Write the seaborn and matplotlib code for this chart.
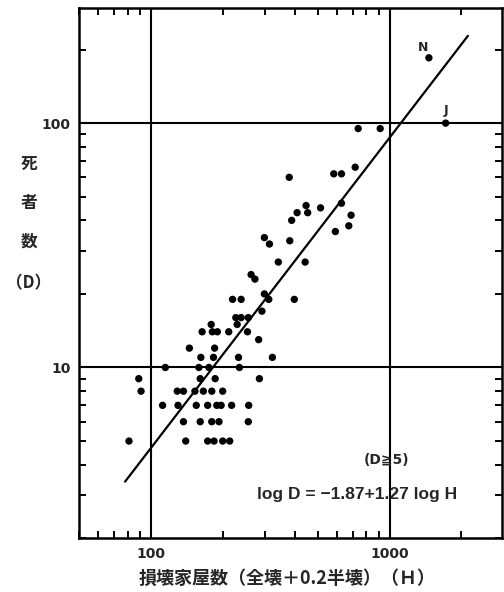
import numpy as np
import pandas as pd
import matplotlib
matplotlib.use("Agg")
import matplotlib.pyplot as plt
import seaborn as sns
from matplotlib.ticker import FixedLocator, NullFormatter, LogLocator

sns.set_style("white")
plt.rcParams['font.family'] = ['Noto Sans CJK JP', 'DejaVu Sans']

# Damaged houses H (x) and deaths D (y)
houses = [81, 140, 173, 184, 200, 214,
          137, 161, 180, 193, 256,
          112, 130, 155, 173, 189, 197, 218, 257,
          91, 129, 137, 153, 166, 180, 200,
          89, 161, 186, 285,
          115, 159, 175, 235,
          162, 183, 233, 323,
          145, 185,
          283,
          164, 181, 190, 212, 254,
          179, 230,
          227, 239, 256,
          292,
          220, 239, 312, 399,
          299, 273, 263,
          342, 443,
          314, 382, 299, 593, 675, 389,
          410, 454, 690,
          447, 514, 629,
          380, 584, 629, 718,
          739, 914,
          1462, 1718]
deaths = [5, 5, 5, 5, 5, 5,
          6, 6, 6, 6, 6,
          7, 7, 7, 7, 7, 7, 7, 7,
          8, 8, 8, 8, 8, 8, 8,
          9, 9, 9, 9,
          10, 10, 10, 10,
          11, 11, 11, 11,
          12, 12,
          13,
          14, 14, 14, 14, 14,
          15, 15,
          16, 16, 16,
          17,
          19, 19, 19, 19,
          20, 23, 24,
          27, 27,
          32, 33, 34, 36, 38, 40,
          43, 43, 42,
          46, 45, 47,
          60, 62, 62, 66,
          95, 95,
          185, 100]

# Regression: log D = a + b log H
coef_a = -1.87
coef_b = 1.27
line_h = [78, 2130]

x_ticks = [100, 1000]
x_ticklabels = ["100", "1000"]
y_ticks = [10, 100]
y_ticklabels = ["10", "100"]
y_label_chars = ["死", "者", "数", "（D）"]
x_label = "損壊家屋数（全壊＋0.2半壊）（Ｈ）"

df = pd.DataFrame({"H": houses, "D": deaths})
line_df = pd.DataFrame({"H": line_h})
line_df["D"] = 10 ** (coef_a + coef_b * np.log10(line_df["H"]))

fig = plt.figure(figsize=(5.04, 5.92), dpi=100)
ax = fig.add_axes([0.1567, 0.0907, 0.8387, 0.8953])

ax.set_xscale("log")
ax.set_yscale("log")
ax.set_xlim(50, 2950)
ax.set_ylim(2, 295)

# grid lines at decades
for v in x_ticks:
    ax.axvline(v, color="black", lw=1.5, zorder=1)
for v in y_ticks:
    ax.axhline(v, color="black", lw=1.5, zorder=1)

sns.lineplot(data=line_df, x="H", y="D", color="black", lw=1.6, ax=ax, zorder=3)
sns.scatterplot(data=df, x="H", y="D", color="black", s=28, edgecolor="none",
                ax=ax, zorder=4, legend=False)

ax.text(1380, 192, "N", fontsize=9, fontweight="bold", ha="center", va="bottom",
        family=["DejaVu Sans"])
ax.text(1718, 106, "J", fontsize=9, fontweight="bold", ha="center", va="bottom",
        family=["DejaVu Sans"])

ax.text(0.728, 0.148, "(D≧5)", transform=ax.transAxes, fontsize=10,
        fontweight="bold", ha="center", va="center",
        family=['DejaVu Sans', 'Noto Sans CJK JP'])
ax.text(0.657, 0.082, "log D = \u22121.87+1.27 log H", transform=ax.transAxes,
        fontsize=12.5, fontweight="bold", ha="center", va="center",
        family=['Liberation Sans', 'DejaVu Sans'])

ax.xaxis.set_major_locator(FixedLocator(x_ticks))
ax.set_xticklabels(x_ticklabels)
ax.yaxis.set_major_locator(FixedLocator(y_ticks))
ax.set_yticklabels(y_ticklabels)
ax.xaxis.set_minor_locator(LogLocator(base=10, subs=np.arange(2, 10)))
ax.yaxis.set_minor_locator(LogLocator(base=10, subs=np.arange(2, 10)))
ax.xaxis.set_minor_formatter(NullFormatter())
ax.yaxis.set_minor_formatter(NullFormatter())

ax.tick_params(which="both", direction="in", top=True, right=True,
               bottom=True, left=True, color="black")
ax.tick_params(which="major", length=0, pad=6)
ax.tick_params(which="minor", length=5, width=1.4)
for lab in ax.get_xticklabels() + ax.get_yticklabels():
    lab.set_fontweight("bold")
    lab.set_fontsize(10)
    lab.set_family(['DejaVu Sans'])

for sp in ax.spines.values():
    sp.set_visible(True)
    sp.set_color("black")
    sp.set_linewidth(1.8)

ax.set_xlabel("")
ax.set_ylabel("")
fig.text(287 / 504, 1 - 578 / 592, x_label, fontsize=13, fontweight="bold",
         ha="center", va="center")
for ch, ypix in zip(y_label_chars, [165, 203, 242, 283]):
    fig.text(29 / 504, 1 - ypix / 592, ch, fontsize=12, fontweight="bold",
             ha="center", va="center")

fig.savefig("out.png", dpi=100)
